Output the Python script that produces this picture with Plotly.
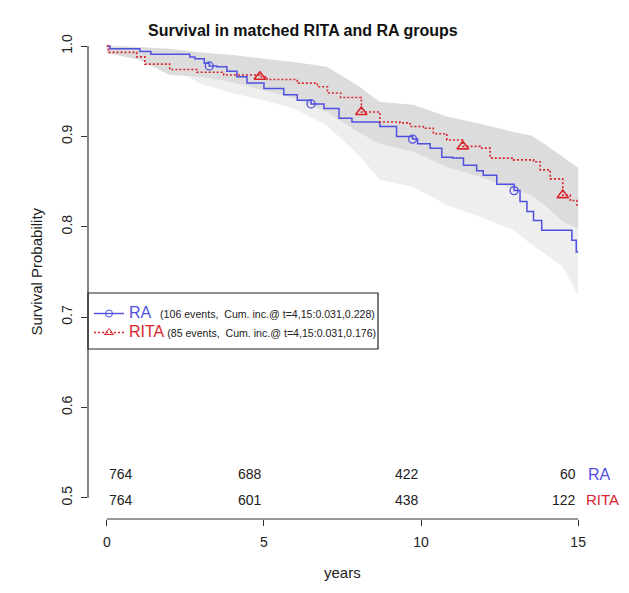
import numpy as np
import plotly.graph_objects as go

# ---------------- data ----------------
ra_t = [0, 0.1, 1.05, 1.4, 2.64, 2.8, 3.1, 3.26, 3.5, 3.82, 4.14, 4.46, 5.0, 5.63, 6.06, 6.5, 6.91,
        7.39, 7.8, 8.69, 9.22, 9.73, 9.89, 10.29, 10.66, 11.0, 11.35, 11.77, 11.98, 12.41, 12.96,
        13.15, 13.37, 13.58, 13.84, 14.8, 14.94, 15.0]
ra_s = [1.0, 0.997, 0.994, 0.991, 0.988, 0.986, 0.981, 0.978, 0.977, 0.972, 0.966, 0.959, 0.953,
        0.946, 0.940, 0.936, 0.931, 0.920, 0.916, 0.911, 0.900, 0.897, 0.892, 0.887, 0.877, 0.876,
        0.868, 0.862, 0.857, 0.847, 0.840, 0.828, 0.817, 0.807, 0.796, 0.785, 0.772, 0.772]

rita_t = [0, 0.05, 0.4, 0.95, 1.21, 2.0, 2.86, 3.72, 4.87, 5.1, 6.06, 6.7, 7.02, 7.44, 8.1, 8.69,
          9.33, 9.65, 10.07, 10.39, 10.82, 11.33, 11.88, 12.2, 12.94, 13.58, 13.79, 14.11, 14.51,
          14.75, 14.96, 15.0]
rita_s = [1.0, 0.993, 0.993, 0.988, 0.980, 0.974, 0.971, 0.968, 0.966, 0.963, 0.959, 0.955, 0.948,
          0.943, 0.927, 0.916, 0.915, 0.911, 0.909, 0.903, 0.896, 0.889, 0.887, 0.876, 0.874, 0.872,
          0.863, 0.853, 0.835, 0.829, 0.824, 0.824]

# confidence bands
band_t = [0, 1, 2, 3, 4, 5, 6, 7, 8, 8.69, 9.76, 10.82, 11.88, 12.94, 13.5, 14.0, 14.5, 14.96, 15.0]
rita_upper = [1.0, 0.999, 0.997, 0.993, 0.990, 0.986, 0.982, 0.977, 0.956, 0.938, 0.935, 0.922,
              0.914, 0.905, 0.901, 0.890, 0.877, 0.866, 0.866]
rita_lower = [0.992, 0.985, 0.968, 0.966, 0.960, 0.951, 0.942, 0.927, 0.905, 0.892, 0.883, 0.866,
              0.855, 0.842, 0.835, 0.822, 0.806, 0.798, 0.798]
ra_upper = [1.0, 0.999, 0.996, 0.993, 0.988, 0.982, 0.975, 0.965, 0.945, 0.935, 0.925, 0.915,
            0.905, 0.895, 0.885, 0.870, 0.860, 0.850, 0.850]
ra_lower = [0.995, 0.990, 0.978, 0.958, 0.948, 0.940, 0.930, 0.912, 0.880, 0.852, 0.844, 0.824,
            0.811, 0.796, 0.781, 0.768, 0.756, 0.726, 0.726]

ra_mark_t = [3.26, 6.5, 9.73, 12.96]
rita_mark_t = [4.87, 8.1, 11.33, 14.51]

risk_times = [0, 5, 10, 15]
risk_ra = [764, 688, 422, 60]
risk_rita = [764, 601, 438, 122]

ra_legend = "(106 events,  Cum. inc.@ t=4,15:0.031,0.228)"
rita_legend = "(85 events,  Cum. inc.@ t=4,15:0.031,0.176)"

BLUE = "#5050E0"
RED = "#D8262C"
FONT = "Liberation Sans, Arial, sans-serif"


def step_at(ts, ss, t):
    idx = np.searchsorted(np.asarray(ts), t, side="right") - 1
    return float(np.asarray(ss)[idx])


def band_poly(ts, up, lo):
    return list(ts) + list(ts)[::-1], list(up) + list(lo)[::-1]


fig = go.Figure()

px_, py_ = band_poly(band_t, ra_upper, ra_lower)
fig.add_trace(go.Scatter(x=px_, y=py_, fill="toself", fillcolor="#EEEEEE", line=dict(width=0),
                         mode="lines", showlegend=False, hoverinfo="skip"))
px_, py_ = band_poly(band_t, rita_upper, rita_lower)
fig.add_trace(go.Scatter(x=px_, y=py_, fill="toself", fillcolor="#DCDCDC", line=dict(width=0),
                         mode="lines", showlegend=False, hoverinfo="skip"))

fig.add_trace(go.Scatter(x=ra_t, y=ra_s, mode="lines", line=dict(color=BLUE, width=1.5, shape="hv"),
                         showlegend=False))
fig.add_trace(go.Scatter(x=rita_t, y=rita_s, mode="lines",
                         line=dict(color=RED, width=1.6, shape="hv", dash="2px,2px"), showlegend=False))

fig.add_trace(go.Scatter(x=ra_mark_t, y=[step_at(ra_t, ra_s, t) for t in ra_mark_t], mode="markers",
                         marker=dict(symbol="circle-open", size=8, color=BLUE, line=dict(width=1.3)),
                         showlegend=False))
fig.add_trace(go.Scatter(x=rita_mark_t, y=[step_at(rita_t, rita_s, t) for t in rita_mark_t], mode="markers",
                         marker=dict(symbol="triangle-up-open", size=10, color=RED, line=dict(width=1.6)),
                         showlegend=False))

# legend-only traces
fig.add_trace(go.Scatter(x=[None], y=[None], mode="lines+markers",
                         line=dict(color=BLUE, width=1.4),
                         marker=dict(symbol="circle-open", size=7, color=BLUE),
                         name=f'<span style="color:{BLUE};font-size:16px">RA</span>   {ra_legend}'))
fig.add_trace(go.Scatter(x=[None], y=[None], mode="lines+markers",
                         line=dict(color=RED, width=1.4, dash="2px,2px"),
                         marker=dict(symbol="triangle-up-open", size=8, color=RED),
                         name=f'<span style="color:{RED};font-size:16px">RITA</span> {rita_legend}'))

ann = []
for t, a, b in zip(risk_times, risk_ra, risk_rita):
    xa = "left" if t == 0 else "right"
    ann.append(dict(x=t, y=0.526, xref="x", yref="y", text=str(a), showarrow=False, xanchor=xa,
                    font=dict(size=14, color="#222", family=FONT)))
    ann.append(dict(x=t, y=0.498, xref="x", yref="y", text=str(b), showarrow=False, xanchor=xa,
                    font=dict(size=14, color="#222", family=FONT)))
ann.append(dict(x=15.25, y=0.526, xref="x", yref="y", text="RA", showarrow=False, xanchor="left",
                font=dict(size=16, color=BLUE, family=FONT)))
ann.append(dict(x=15.2, y=0.498, xref="x", yref="y", text="RITA", showarrow=False, xanchor="left",
                font=dict(size=15, color=RED, family=FONT)))
ann.append(dict(x=25, y=272, xref="paper", yref="paper", text="Survival Probability", showarrow=False,
                textangle=-90, font=dict(size=15, color="#222", family=FONT)))
ann.append(dict(x=342, y=583, xref="paper", yref="paper", text="years", showarrow=False,
                font=dict(size=15, color="#222", family=FONT)))
ann.append(dict(x=303, y=20, xref="paper", yref="paper", text="<b>Survival in matched RITA and RA groups</b>",
                showarrow=False, font=dict(size=16, color="#111", family=FONT)))

# convert pixel-positioned annotations to paper fractions
L, R, T, B = 88, 32, 28, 74
W, H = 629, 593
pw, ph = W - L - R, H - T - B


def fx(px):
    return (px - L) / pw


def fy(py):
    return (H - B - py) / ph


for a in ann:
    if a["xref"] == "paper":
        a["x"] = fx(a["x"])
        a["y"] = fy(a["y"])

fig.update_layout(
    width=W, height=H, margin=dict(l=L, r=R, t=T, b=B, pad=0),
    paper_bgcolor="white", plot_bgcolor="white",
    font=dict(family=FONT, color="#222"),
    xaxis=dict(range=[-0.6, 15.6], tickvals=[0, 5, 10, 15], showgrid=False, zeroline=False, showline=False,
               ticks="outside", ticklen=6, tickcolor="#333", tickwidth=1.2, tickfont=dict(size=14),
               ticklabelstandoff=4),
    yaxis=dict(range=[0.4765, 1.02], tickvals=[0.5, 0.6, 0.7, 0.8, 0.9, 1.0],
               ticktext=["0.5", "0.6", "0.7", "0.8", "0.9", "1.0"], tickangle=-90,
               showgrid=False, zeroline=False, showline=False, ticks="outside", ticklen=6,
               tickcolor="#333", tickwidth=1.2, tickfont=dict(size=14), ticklabelstandoff=3),
    shapes=[
        dict(type="line", xref="x", yref="paper", x0=0, x1=15, y0=0, y1=0, line=dict(color="#333", width=1.2)),
        dict(type="line", xref="paper", yref="y", x0=0, x1=0, y0=0.5, y1=1.0, line=dict(color="#333", width=1.2)),
        dict(type="rect", xref="paper", yref="paper", x0=fx(88), x1=fx(378), y0=fy(349), y1=fy(293),
             line=dict(color="#222", width=1.2), fillcolor="white", layer="below"),
    ],
    legend=dict(x=fx(89), y=fy(299), xanchor="left", yanchor="top", bgcolor="rgba(0,0,0,0)",
                borderwidth=0, font=dict(size=10.6, family=FONT, color="#222"),
                itemwidth=30, tracegroupgap=0),
    annotations=ann,
)

fig.write_html("out.html")
